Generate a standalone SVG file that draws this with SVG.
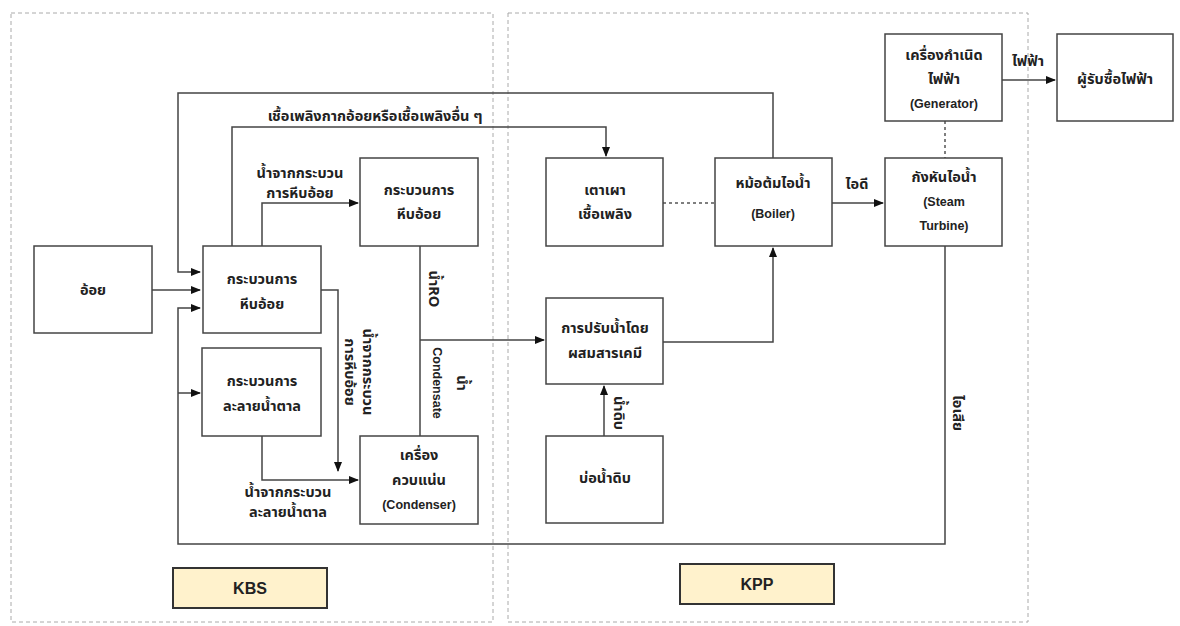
<svg xmlns="http://www.w3.org/2000/svg" width="1180" height="626" viewBox="0 0 1180 626">
<defs>
<marker id="arr" markerWidth="10" markerHeight="8" refX="9" refY="4" orient="auto" markerUnits="userSpaceOnUse">
<path d="M0,0 L10,4 L0,8 Z" fill="#111"/>
</marker>
<style>
.box{fill:#fff;stroke:#444;stroke-width:1.5}
.zone{fill:none;stroke:#aaa;stroke-width:1;stroke-dasharray:4 3}
.lbl{fill:#FFF2CC;stroke:#333;stroke-width:2}
.ln{fill:none;stroke:#444;stroke-width:1.5}
.dl{fill:none;stroke:#555;stroke-width:1.5;stroke-dasharray:3 3}
text{font-family:"Noto Sans Thai","Liberation Sans","Noto Sans",sans-serif;font-size:14.5px;font-weight:bold;fill:#222;text-anchor:middle}
.en{font-family:"Liberation Sans",Arial,sans-serif;font-size:12.5px}
.big{font-family:"Liberation Sans",Arial,sans-serif;font-size:16px}
</style>
</defs>
<rect width="1180" height="626" fill="#fff"/>
<g id="zones">
<rect class="zone" x="11" y="13" width="482" height="609"/>
<rect class="zone" x="508" y="13" width="520" height="609"/>
</g>
<g id="connectors">
<path class="ln" d="M152,290 H200" marker-end="url(#arr)"/>
<path class="ln" d="M773,158 V93 H178 V272 H200" marker-end="url(#arr)"/>
<path class="ln" d="M232,246 V127 H606 V156" marker-end="url(#arr)"/>
<path class="ln" d="M262,246 V203 H358" marker-end="url(#arr)"/>
<path class="ln" d="M945,246 V544 H178 V308 H200" marker-end="url(#arr)"/>
<path class="ln" d="M178,393 H200" marker-end="url(#arr)"/>
<path class="ln" d="M321,290 H338 V471" marker-end="url(#arr)"/>
<path class="ln" d="M262,436 V480 H358" marker-end="url(#arr)"/>
<path class="ln" d="M420,246 V436"/>
<path class="ln" d="M420,340 H544" marker-end="url(#arr)"/>
<path class="ln" d="M663,342 H773 V248" marker-end="url(#arr)"/>
<path class="ln" d="M604,436 V386" marker-end="url(#arr)"/>
<path class="dl" d="M663,203 H715"/>
<path class="ln" d="M832,203 H883" marker-end="url(#arr)"/>
<path class="dl" d="M945,121 V158"/>
<path class="ln" d="M1002,80 H1055" marker-end="url(#arr)"/>
<text x="375" y="121">เชื้อเพลิงกากอ้อยหรือเชื้อเพลิงอื่น ๆ</text>
<text x="300" y="178">น้ำจากกระบวน</text>
<text x="300" y="198">การหีบอ้อย</text>
<text x="288" y="497">น้ำจากกระบวน</text>
<text x="288" y="517">ละลายน้ำตาล</text>
<text transform="translate(363,372) rotate(90)">น้ำจากกระบวน</text>
<text transform="translate(363,372) rotate(90)" y="18">การหีบอ้อย</text>
<text transform="translate(429,289) rotate(90)">น้ำRO</text>
<text transform="translate(448,383) rotate(90)" y="-9">น้ำ</text>
<text transform="translate(448,383) rotate(90)" y="15" class="en">Condensate</text>
<text transform="translate(614,413) rotate(90)">น้ำดิบ</text>
<text transform="translate(953,413) rotate(90)">ไอเสีย</text>
<text x="857" y="189">ไอดี</text>
<text x="1028" y="66">ไฟฟ้า</text>
</g>
<g id="n-sugarcane"><rect class="box" x="34" y="246" width="118" height="87"/><text x="93" y="295">อ้อย</text></g>
<g id="n-crush1"><rect class="box" x="203" y="246" width="118" height="87"/><text x="262" y="284">กระบวนการ</text><text x="262" y="309">หีบอ้อย</text></g>
<g id="n-crush2"><rect class="box" x="360" y="158" width="118" height="88"/><text x="419" y="195">กระบวนการ</text><text x="419" y="219">หีบอ้อย</text></g>
<g id="n-dissolve"><rect class="box" x="202" y="348" width="119" height="88"/><text x="262" y="386">กระบวนการ</text><text x="262" y="411">ละลายน้ำตาล</text></g>
<g id="n-condenser"><rect class="box" x="360" y="436" width="118" height="88"/><text x="419" y="460">เครื่อง</text><text x="419" y="485">ควบแน่น</text><text class="en" x="419" y="509">(Condenser)</text></g>
<g id="n-furnace"><rect class="box" x="546" y="158" width="117" height="88"/><text x="605" y="195">เตาเผา</text><text x="605" y="219">เชื้อเพลิง</text></g>
<g id="n-boiler"><rect class="box" x="715" y="158" width="117" height="88"/><text x="773" y="188">หม้อต้มไอน้ำ</text><text class="en" x="773" y="218">(Boiler)</text></g>
<g id="n-turbine"><rect class="box" x="885" y="158" width="117" height="88"/><text x="944" y="182">กังหันไอน้ำ</text><text class="en" x="944" y="206">(Steam</text><text class="en" x="944" y="230">Turbine)</text></g>
<g id="n-generator"><rect class="box" x="885" y="34" width="117" height="87"/><text x="944" y="60">เครื่องกำเนิด</text><text x="944" y="84">ไฟฟ้า</text><text class="en" x="944" y="108">(Generator)</text></g>
<g id="n-buyer"><rect class="box" x="1057" y="34" width="116" height="87"/><text x="1115" y="84">ผู้รับซื้อไฟฟ้า</text></g>
<g id="n-treat"><rect class="box" x="546" y="298" width="117" height="86"/><text x="605" y="333">การปรับน้ำโดย</text><text x="605" y="358">ผสมสารเคมี</text></g>
<g id="n-pond"><rect class="box" x="546" y="436" width="117" height="87"/><text x="605" y="483">บ่อน้ำดิบ</text></g>
<g id="n-kbs"><rect class="lbl" x="173" y="568" width="154" height="40"/><text class="big" x="250" y="594">KBS</text></g>
<g id="n-kpp"><rect class="lbl" x="680" y="564" width="154" height="40"/><text class="big" x="757" y="590">KPP</text></g>
</svg>
